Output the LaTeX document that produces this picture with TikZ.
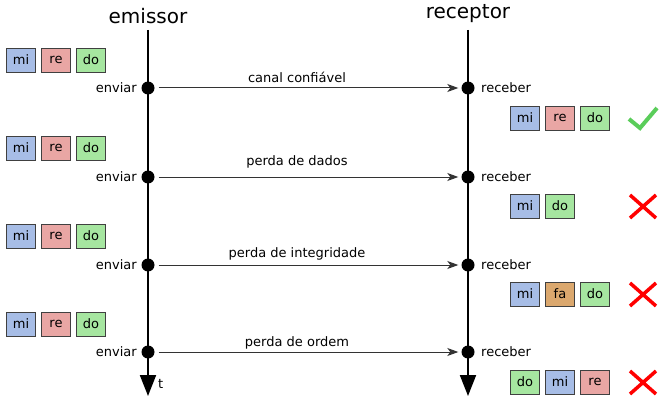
\documentclass[tikz,border=0pt]{standalone}
\usepackage{fontspec}
\setmainfont{DejaVu Sans}
\usetikzlibrary{arrows.meta}
\definecolor{bmi}{HTML}{A7BDE6}
\definecolor{bre}{HTML}{E9A6A4}
\definecolor{bdo}{HTML}{A6E6A0}
\definecolor{bfa}{HTML}{DBA86E}
\definecolor{okgreen}{HTML}{5ACD5A}
\definecolor{msggray}{HTML}{333333}
\tikzset{
  notebox/.style={draw=black!75, line width=0.9pt, minimum width=29pt, minimum height=24pt, inner sep=0pt, font=\fontsize{13}{15}\selectfont},
  mi/.style={notebox, fill=bmi},
  re/.style={notebox, fill=bre},
  do/.style={notebox, fill=bdo},
  fa/.style={notebox, fill=bfa},
  evdot/.style={circle, fill=black, minimum size=13pt, inner sep=0pt},
  lifeline/.style={line width=2pt, -{Triangle[length=21pt,width=16pt]}},
  msg/.style={draw=msggray, line width=1pt, -{Stealth[length=11pt,width=8pt,inset=3pt]}, shorten <=4pt, shorten >=3pt},
  evlabel/.style={font=\fontsize{13}{15}\selectfont, inner sep=0pt},
  msglabel/.style={font=\fontsize{13}{15}\selectfont, inner sep=0pt, anchor=base, xshift=-11pt},
  title/.style={font=\fontsize{20}{24}\selectfont, inner sep=0pt},
  ok/.style={okgreen, line width=4pt},
  bad/.style={red, line width=3.5pt}
}
\begin{document}
\begin{tikzpicture}[x=1pt,y=-1pt]
\useasboundingbox (0,0) rectangle (659,396);
\node[title] (em) at (148,16) {emissor};
\node[title] (rc) at (468,14) {receptor};
\coordinate (emtop) at (148,30);
\coordinate (embot) at (148,396);
\coordinate (rctop) at (468,30);
\coordinate (rcbot) at (468,396);
\draw[lifeline] (emtop) -- (embot);
\draw[lifeline] (rctop) -- (rcbot);
\node[evlabel, anchor=west] (t) at (158,384) {t};
% events
\foreach \i/\y in {1/88,2/177,3/265,4/352}{
  \node[evdot] (s\i) at (148,\y) {};
  \node[evdot] (r\i) at (468,\y) {};
  \node[evlabel, anchor=east] (sl\i) at (137,\y) {enviar};
  \node[evlabel, anchor=west] (rl\i) at (481,\y) {receber};
}
\draw[msg] (s1) -- node[msglabel, yshift=6pt] (m1) {canal confiável} (r1);
\draw[msg] (s2) -- node[msglabel, yshift=12pt] (m2) {perda de dados} (r2);
\draw[msg] (s3) -- node[msglabel, yshift=7.5pt] (m3) {perda de integridade} (r3);
\draw[msg] (s4) -- node[msglabel, yshift=6pt] (m4) {perda de ordem} (r4);
% sender boxes
\foreach \i/\y in {1/60,2/148,3/236,4/324}{
  \node[mi] (a\i) at (21,\y) {mi};
  \node[re] (b\i) at (56,\y) {re};
  \node[do] (c\i) at (91,\y) {do};
}
% receiver boxes
\node[mi] (x1) at (525,118) {mi};
\node[re] (y1) at (560,118) {re};
\node[do] (z1) at (595,118) {do};
\node[mi] (x2) at (525,206) {mi};
\node[do] (y2) at (560,206) {do};
\node[mi] (x3) at (525,294) {mi};
\node[fa] (y3) at (560,294) {fa};
\node[do] (z3) at (595,294) {do};
\node[do] (x4) at (525,382) {do};
\node[mi] (y4) at (560,382) {mi};
\node[re] (z4) at (595,382) {re};
% verdicts
\draw[ok] (629,119) -- (640,128) -- (657,108);
\draw[bad] (630,195) -- (656,218) (630,218) -- (656,195);
\draw[bad] (630,283) -- (656,306) (630,306) -- (656,283);
\draw[bad] (630,371) -- (656,394) (630,394) -- (656,371);
\end{tikzpicture}
\end{document}
